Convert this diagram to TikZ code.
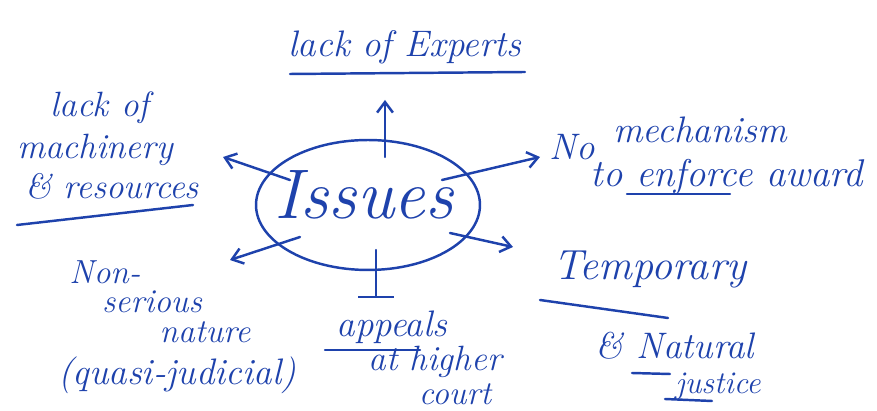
\documentclass[tikz,border=0pt]{standalone}
\usetikzlibrary{arrows.meta,shapes.geometric}
\definecolor{ink}{RGB}{30,66,172}
\tikzset{
  pen/.style={draw=ink, line width=1.4pt, line cap=round},
  arrowline/.style={pen, -{Straight Barb[length=6pt,width=9pt]}},
  barline/.style={pen, -{Bar[width=20pt]}},
  txt/.style={text=ink, font=\itshape\fontsize{#1}{#1}\selectfont, inner sep=0pt},
  txt/.default=20
}
\begin{document}
\begin{tikzpicture}[x=0.02cm,y=-0.02cm]
\useasboundingbox (0,0) rectangle (877,411);

% central topic
\node[pen, ellipse, minimum width=4.48cm, minimum height=2.6cm] (issues) at (368,205) {};
\node[txt=40] (issuestext) at (364,195) {Issues};

% top branch
\node[txt=21] (experts) at (405,47) {lack of Experts};
\coordinate (expertsline-a) at (290,74);
\coordinate (expertsline-b) at (525,72);
\draw[pen] (expertsline-a) -- (expertsline-b);

% upper left branch
\node[txt=20] (mach1) at (100,108) {lack of};
\node[txt=20] (mach2) at (95,150) {machinery};
\node[txt=20] (mach3) at (112,186) {\& resources};
\coordinate (machline-a) at (17,225);
\coordinate (machline-b) at (193,205);
\draw[pen] (machline-a) -- (machline-b);

% upper right branch
\node[txt=21] (mech1) at (572,147) {No};
\node[txt=21] (mech2) at (700,130) {mechanism};
\node[txt=22] (mech3) at (727,177) {to enforce award};
\coordinate (mechline-a) at (627,194);
\coordinate (mechline-b) at (730,194);
\draw[pen] (mechline-a) -- (mechline-b);

% lower right branch
\node[txt=24] (temp1) at (650,270) {Temporary};
\coordinate (templine-a) at (540,300);
\coordinate (templine-b) at (668,318);
\draw[pen] (templine-a) -- (templine-b);
\node[txt=21] (temp2) at (675,346) {\& Natural};
\coordinate (natline-a) at (632,373);
\coordinate (natline-b) at (670,374);
\draw[pen] (natline-a) -- (natline-b);
\node[txt=18] (temp3) at (718,386) {justice};
\coordinate (jusline-a) at (665,399);
\coordinate (jusline-b) at (712,401);
\draw[pen] (jusline-a) -- (jusline-b);

% bottom branch
\node[txt=21] (app1) at (392,327) {appeals};
\coordinate (appline-a) at (325,350);
\coordinate (appline-b) at (420,350);
\draw[pen] (appline-a) -- (appline-b);
\node[txt=20] (app2) at (435,362) {at higher};
\node[txt=19] (app3) at (455,394) {court};

% lower left branch
\node[txt=19] (non1) at (105,272) {Non-};
\node[txt=19] (non2) at (152,302) {serious};
\node[txt=19] (non3) at (205,332) {nature};
\node[txt=21] (non4) at (177,375) {(quasi-judicial)};

% connectors leaving the central topic
\coordinate (up-from) at (385,157);
\coordinate (up-to) at (385,100);
\coordinate (ul-from) at (290,180);
\coordinate (ul-to) at (223,157);
\coordinate (ur-from) at (442,180);
\coordinate (ur-to) at (540,157);
\coordinate (lr-from) at (450,233);
\coordinate (lr-to) at (513,247);
\coordinate (ll-from) at (300,237);
\coordinate (ll-to) at (230,260);
\coordinate (dn-from) at (376,250);
\coordinate (dn-to) at (376,298);

\draw[arrowline] (up-from) -- (up-to);
\draw[arrowline] (ul-from) -- (ul-to);
\draw[arrowline] (ur-from) -- (ur-to);
\draw[arrowline] (lr-from) -- (lr-to);
\draw[arrowline] (ll-from) -- (ll-to);
\draw[barline] (dn-from) -- (dn-to);
\end{tikzpicture}
\end{document}
